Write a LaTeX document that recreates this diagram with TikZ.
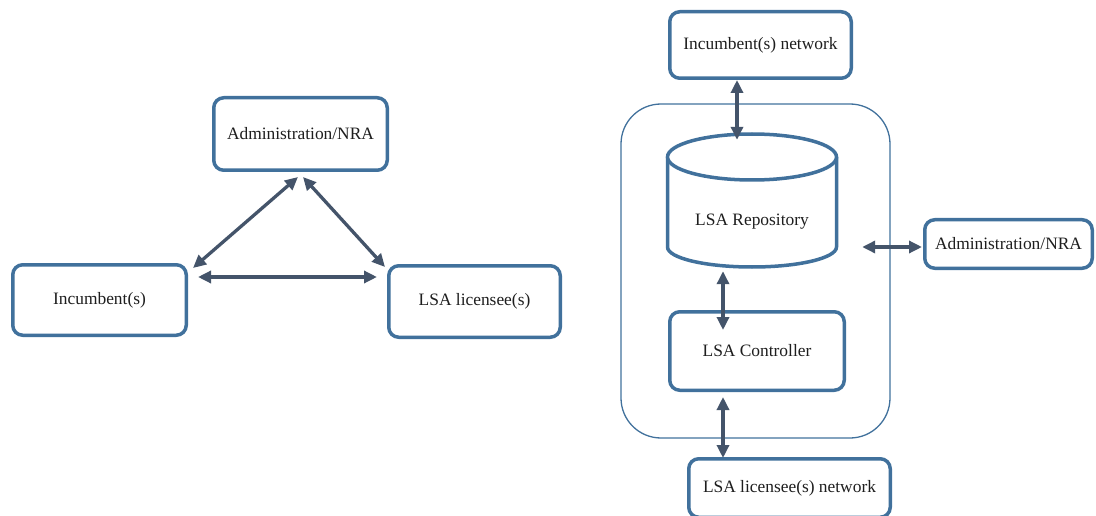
\documentclass[tikz,border=0pt]{standalone}
\usepackage{fontspec}
\setmainfont{Liberation Serif}
\newfontfamily\boxface{Liberation Serif}
\usetikzlibrary{arrows.meta}
\definecolor{boxblue}{HTML}{41719C}
\definecolor{arrowgray}{HTML}{44546A}
\definecolor{labelink}{HTML}{1E1E1E}
\begin{document}
\begin{tikzpicture}[x=1pt,y=-1pt,
  labelfont/.style={font=\boxface\fontsize{17.4}{20}\selectfont, text=labelink},
  box/.style={draw=boxblue, line width=3.5pt, rounded corners=10pt, fill=white,
              inner sep=0pt, labelfont},
  frame/.style={draw=boxblue, line width=1.3pt, rounded corners=40pt, inner sep=0pt},
  cyl/.style={draw=boxblue, line width=3.5pt},
  link/.style={draw=arrowgray, line width=3.3pt,
               {Triangle[length=13pt,width=12pt]}-{Triangle[length=13pt,width=12pt]}},
]
\useasboundingbox (0,0) rectangle (1096,516);

% ---------- left: relationship triangle ----------
\node[box, minimum width=173.5pt, minimum height=72.5pt] (adm) at (300.5,134) {Administration/NRA};
\node[box, minimum width=173.5pt, minimum height=70.5pt] (inc) at (99.5,300) {Incumbent(s)};
\node[box, minimum width=171.5pt, minimum height=71.5pt] (lic) at (474.5,301.5) {LSA licensee(s)};

\draw[link] ([xshift=-2.5pt,yshift=-5pt]adm.south) -- ([xshift=5pt,yshift=-5pt]inc.north east);
\draw[link] ([xshift=2.5pt,yshift=-5pt]adm.south) -- ([xshift=-2pt,yshift=-3pt]lic.north west);
\draw[link] ([xshift=10pt,yshift=23pt]inc.east) -- ([xshift=-10pt,yshift=24.5pt]lic.west);

% ---------- right: LSA system architecture ----------
\node[frame, minimum width=269pt, minimum height=334pt] (lsa) at (755.5,271) {};

% repository drawn as a cylinder around an invisible anchor node
\node[inner sep=0pt, minimum width=169pt, minimum height=134pt] (repo) at (752,200) {};
\fill[white] (667.5,157) -- (667.5,247) arc[start angle=180, end angle=360, x radius=84.5pt, y radius=20pt] -- (836.5,157) -- cycle;
\draw[cyl] (667.5,157) -- (667.5,247) arc[start angle=180, end angle=360, x radius=84.5pt, y radius=20pt] -- (836.5,157);
\draw[cyl, fill=white] (752,157) ellipse [x radius=84.5pt, y radius=23pt];
\node[labelfont] (repolabel) at ([yshift=-22pt]repo.center) {LSA Repository};

\node[box, minimum width=181.5pt, minimum height=66.5pt] (incnet) at (760.5,45) {Incumbent(s) network};
\node[box, minimum width=167.5pt, minimum height=48.5pt] (admr) at (1008.5,244) {Administration/NRA};
\node[box, minimum width=174.5pt, minimum height=78.5pt] (ctrl) at (757,351) {LSA Controller};
\node[box, minimum width=201.5pt, minimum height=58.5pt] (licnet) at (789.5,488) {LSA licensee(s) network};

\draw[link] ([xshift=-23.5pt]incnet.south) -- ([xshift=-15pt,yshift=-7pt]repo.north);
\draw[link] ([xshift=25.5pt,yshift=-47pt]repo.east) -- ([xshift=-1pt,yshift=-3pt]admr.west);
\draw[link] ([xshift=-29pt,yshift=-4pt]repo.south) -- ([xshift=-34pt,yshift=-20pt]ctrl.north);
\draw[link] ([xshift=-34pt,yshift=-5pt]ctrl.south) -- ([xshift=-66.5pt,yshift=-1pt]licnet.north);
\end{tikzpicture}
\end{document}
